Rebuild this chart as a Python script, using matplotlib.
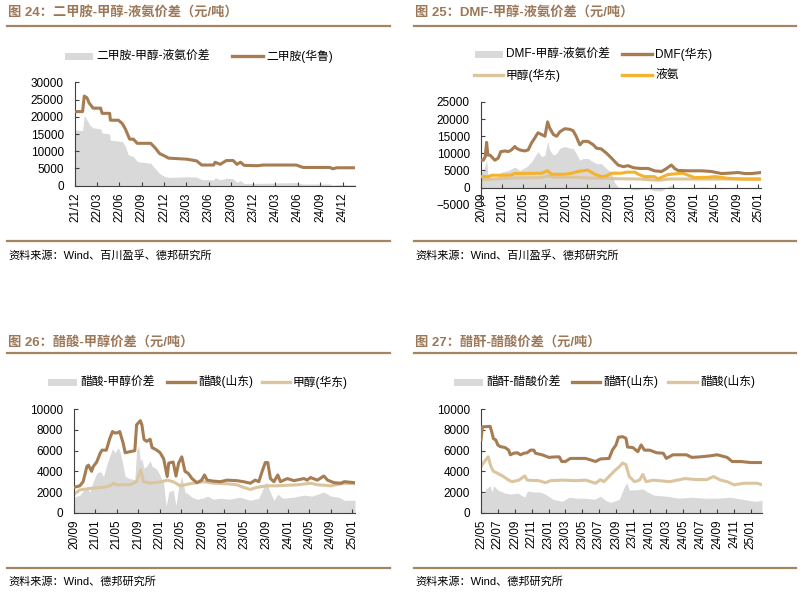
import matplotlib
matplotlib.use('Agg')
import matplotlib.pyplot as plt
import pandas as pd
from matplotlib.lines import Line2D
from matplotlib.patches import Rectangle

plt.rcParams['font.family'] = ['Liberation Sans', 'Noto Sans CJK SC', 'DejaVu Sans']

# ---------------- Panel 24: 二甲胺 ----------------
p1_line_d = ['2021-12-01', '2022-01-01', '2022-01-08', '2022-01-19', '2022-01-28', '2022-02-13', '2022-03-16',
             '2022-03-22', '2022-04-22', '2022-04-25', '2022-05-28', '2022-06-13', '2022-06-25', '2022-07-13',
             '2022-07-28', '2022-08-13', '2022-10-07', '2022-10-25', '2022-11-13', '2022-12-01', '2022-12-19',
             '2023-03-04', '2023-04-13', '2023-05-04', '2023-06-22', '2023-06-28', '2023-07-19', '2023-08-13',
             '2023-09-10', '2023-09-25', '2023-10-10', '2023-10-25', '2023-12-16', '2024-01-13', '2024-05-25',
             '2024-06-22', '2024-10-10', '2024-10-22', '2024-11-07', '2025-01-21']
p1_line_v = [21500, 21500, 26000, 25500, 24000, 22500, 22500, 21000, 21000, 19000, 19000, 18000, 16500, 13500,
             13500, 12300, 12300, 11000, 9300, 8700, 8000, 7700, 7200, 6000, 6000, 6800, 6200, 7300,
             7300, 6200, 6800, 5900, 5800, 6000, 6000, 5300, 5300, 4900, 5200, 5200]
p1_area_d = ['2021-12-01', '2022-01-01', '2022-01-08', '2022-01-19', '2022-02-01', '2022-02-13', '2022-03-16',
             '2022-03-22', '2022-04-22', '2022-04-25', '2022-06-13', '2022-06-25', '2022-07-07', '2022-07-28',
             '2022-08-13', '2022-10-07', '2022-10-25', '2022-11-13', '2022-12-01', '2022-12-19', '2023-03-04',
             '2023-04-13', '2023-05-04', '2023-06-22', '2023-06-28', '2023-07-19', '2023-08-13', '2023-09-10',
             '2023-09-25', '2023-10-10', '2023-10-25', '2024-01-13', '2024-05-25', '2024-06-22', '2024-10-10',
             '2024-10-22', '2024-11-07', '2025-01-21']
p1_area_v = [16200, 16000, 20500, 19000, 17500, 16800, 16500, 15300, 15000, 13200, 12800, 11500, 9000, 8500,
             7000, 6500, 5000, 3500, 2800, 2400, 2600, 2500, 1800, 1700, 2300, 1700, 2200, 2000,
             1000, 1500, 600, 700, 900, 500, 500, 100, 300, 300]
p1_ticks = ['21/12', '22/03', '22/06', '22/09', '22/12', '23/03', '23/06', '23/09', '23/12',
            '24/03', '24/06', '24/09', '24/12']

# ---------------- Panel 25: DMF ----------------
p2_dmf_d = ['2020-09-01', '2020-09-14', '2020-09-25', '2020-10-03', '2020-10-10', '2020-10-22', '2020-11-19',
            '2020-12-08', '2020-12-23', '2021-01-16', '2021-02-04', '2021-02-22', '2021-03-13', '2021-03-22',
            '2021-04-10', '2021-05-08', '2021-05-28', '2021-06-16', '2021-07-04', '2021-07-23', '2021-08-13',
            '2021-09-01', '2021-09-16', '2021-09-28', '2021-10-19', '2021-11-07', '2021-11-25', '2021-12-23',
            '2022-01-22', '2022-02-09', '2022-02-26', '2022-03-19', '2022-04-07', '2022-05-04', '2022-06-04',
            '2022-06-22', '2022-07-19', '2022-08-19', '2022-09-16', '2022-10-23', '2022-11-22', '2022-12-19',
            '2023-01-19', '2023-02-25', '2023-04-13', '2023-05-19', '2023-06-28', '2023-07-25', '2023-08-23',
            '2023-09-13', '2023-10-01', '2023-11-28', '2024-02-13', '2024-04-08', '2024-06-04', '2024-07-13',
            '2024-09-08', '2024-10-16', '2024-11-23', '2025-01-16']
p2_dmf_v = [8000, 8000, 9000, 13200, 9500, 9500, 8000, 8600, 10500, 10700, 10500, 11000, 12000, 11500,
            11000, 10700, 11000, 13000, 14400, 16000, 15500, 15000, 19200, 17400, 15500, 15000, 16300, 17200,
            17000, 16600, 15000, 12500, 13500, 13500, 12500, 11500, 11300, 10000, 8600, 6600, 6100, 6400,
            5800, 5600, 5600, 4900, 4700, 5500, 6600, 5500, 5000, 4900, 4900, 4700, 4100, 4200,
            4400, 4100, 4100, 4400]
p2_nh3_d = ['2020-09-01', '2020-10-13', '2020-11-01', '2020-12-28', '2021-01-16', '2021-02-22', '2021-03-13',
            '2021-08-13', '2021-09-16', '2021-10-08', '2021-12-23', '2022-02-01', '2022-03-08', '2022-05-04',
            '2022-06-13', '2022-07-19', '2022-08-19', '2022-09-16', '2022-11-13', '2022-12-10', '2023-01-28',
            '2023-02-16', '2023-03-23', '2023-05-19', '2023-06-08', '2023-07-07', '2023-08-04', '2023-10-01',
            '2023-10-28', '2023-11-28', '2024-01-04', '2024-03-19', '2024-04-28', '2024-07-13', '2024-09-28',
            '2025-01-16']
p2_nh3_v = [3200, 3200, 3600, 3600, 3600, 3700, 4100, 4200, 4900, 3900, 3900, 4200, 4700, 5100,
            3900, 3200, 3400, 4200, 4200, 4500, 4500, 3900, 3200, 3200, 2500, 3200, 3800, 4100,
            4200, 3600, 2900, 3000, 3200, 2700, 2500, 2500]
p2_meoh_d = ['2020-09-01', '2020-11-01', '2021-02-04', '2021-03-13', '2021-08-13', '2021-09-16', '2021-10-19',
             '2022-02-26', '2022-05-04', '2022-08-19', '2022-10-03', '2023-02-25', '2023-05-19', '2023-06-28',
             '2023-08-04', '2023-12-01', '2024-04-01', '2025-01-16']
p2_meoh_v = [2200, 2500, 2700, 2800, 2900, 3400, 3000, 3000, 2800, 2700, 2600, 2500, 2200, 2200,
             2500, 2500, 2500, 2500]
p2_area_d = ['2020-09-01', '2020-09-16', '2020-10-03', '2020-10-10', '2020-11-01', '2020-12-01', '2020-12-23',
             '2021-02-04', '2021-03-13', '2021-04-10', '2021-05-16', '2021-06-16', '2021-07-04', '2021-07-23',
             '2021-08-13', '2021-09-01', '2021-09-16', '2021-09-28', '2021-10-19', '2021-11-07', '2021-11-25',
             '2021-12-23', '2022-01-22', '2022-02-09', '2022-02-26', '2022-03-19', '2022-04-07', '2022-05-04',
             '2022-06-04', '2022-06-22', '2022-07-19', '2022-08-19', '2022-09-16', '2022-10-03', '2022-10-23',
             '2022-11-22', '2022-12-19', '2023-01-19', '2023-02-25', '2023-04-13', '2023-05-19', '2023-06-28',
             '2023-07-25', '2023-08-23', '2023-09-13', '2023-10-01', '2023-11-28', '2024-02-13', '2024-04-08',
             '2024-06-04', '2024-07-13', '2024-09-08', '2024-10-16', '2025-01-16']
p2_area_v = [4500, 5000, 8000, 4000, 2500, 2800, 4500, 5000, 6000, 5000, 6000, 7500, 9000, 10500,
             9000, 9500, 13500, 11000, 9500, 10000, 11500, 12000, 11500, 11500, 10000, 8000, 8500, 8500,
             7500, 7000, 7000, 5500, 4500, 1500, 200, -400, 0, -700, -500, -300, -900, -1000,
             0, 700, 0, -200, -300, 200, 0, -400, -200, 0, -300, 0]
p2_ticks = ['20/09', '21/01', '21/05', '21/09', '22/01', '22/05', '22/09', '23/01', '23/05', '23/09',
            '24/01', '24/05', '24/09', '25/01']

# ---------------- Panel 26: 醋酸-甲醇 ----------------
p3_acid_d = ['2020-09-01', '2020-10-04', '2020-10-23', '2020-11-13', '2020-11-22', '2020-12-10', '2020-12-19',
             '2021-01-08', '2021-01-28', '2021-02-07', '2021-03-04', '2021-03-24', '2021-04-08', '2021-04-22',
             '2021-05-10', '2021-05-19', '2021-06-08', '2021-06-19', '2021-07-16', '2021-08-13', '2021-08-23',
             '2021-09-13', '2021-09-22', '2021-10-04', '2021-10-19', '2021-11-08', '2021-11-19', '2021-12-16',
             '2022-01-04', '2022-01-24', '2022-02-13', '2022-02-22', '2022-03-19', '2022-04-04', '2022-04-19',
             '2022-05-07', '2022-05-25', '2022-06-13', '2022-07-04', '2022-08-01', '2022-08-28', '2022-09-13',
             '2022-09-28', '2022-11-04', '2022-12-13', '2023-01-19', '2023-03-16', '2023-04-23', '2023-06-01',
             '2023-06-28', '2023-07-19', '2023-08-07', '2023-08-25', '2023-09-08', '2023-09-23', '2023-10-13',
             '2023-11-04', '2023-11-19', '2023-12-28', '2024-02-04', '2024-04-01', '2024-04-19', '2024-05-08',
             '2024-06-16', '2024-07-23', '2024-08-13', '2024-09-19', '2024-10-28', '2024-11-16', '2025-01-16']
p3_acid_v = [2450, 2600, 3000, 4450, 4600, 4000, 4450, 4900, 5750, 6050, 6050, 7200, 7850, 7700,
             7750, 7850, 6700, 5800, 5900, 6000, 8500, 8900, 8500, 7100, 6900, 7100, 6300, 6050,
             5800, 5200, 3500, 4800, 4900, 3550, 4800, 5400, 4000, 3800, 3300, 2900, 3150, 3650,
             3150, 3050, 3000, 3150, 3100, 3000, 2850, 3150, 3000, 4000, 4850, 4850, 3300, 3000,
             3650, 3000, 3300, 3100, 3300, 3150, 3400, 3150, 3550, 3150, 2900, 2850, 3000, 2900]
p3_meoh_d = ['2020-09-01', '2020-10-04', '2020-12-01', '2021-02-16', '2021-03-24', '2021-04-13', '2021-05-01',
             '2021-07-16', '2021-08-23', '2021-09-16', '2021-10-01', '2021-11-08', '2022-01-13', '2022-02-13',
             '2022-03-19', '2022-04-28', '2022-06-23', '2022-09-08', '2022-11-04', '2023-01-19', '2023-03-16',
             '2023-04-23', '2023-06-01', '2023-07-08', '2023-09-04', '2023-11-01', '2024-02-23', '2024-05-08',
             '2024-06-16', '2024-09-01', '2024-11-16', '2025-01-16']
p3_meoh_v = [1800, 2200, 2350, 2450, 2600, 2850, 2700, 2700, 3000, 4150, 3000, 2850, 3000, 3150,
             3000, 2600, 2800, 3000, 2850, 2800, 2700, 2450, 2250, 2450, 2600, 2600, 2700, 2850,
             2700, 2600, 2850, 2800]
p3_area_d = ['2020-09-01', '2020-10-04', '2020-11-13', '2020-12-01', '2020-12-19', '2021-01-08', '2021-01-28',
             '2021-02-16', '2021-03-04', '2021-03-24', '2021-04-08', '2021-04-22', '2021-05-10', '2021-05-19',
             '2021-06-08', '2021-06-19', '2021-07-16', '2021-08-13', '2021-08-23', '2021-09-04', '2021-09-13',
             '2021-09-22', '2021-10-04', '2021-10-19', '2021-11-08', '2021-11-19', '2021-12-16', '2022-01-04',
             '2022-01-24', '2022-02-07', '2022-02-22', '2022-03-19', '2022-04-04', '2022-04-19', '2022-05-07',
             '2022-05-25', '2022-06-13', '2022-07-04', '2022-08-01', '2022-09-01', '2022-10-01', '2022-11-01',
             '2022-12-16', '2023-02-01', '2023-04-01', '2023-06-01', '2023-07-19', '2023-08-16', '2023-09-01',
             '2023-09-16', '2023-10-13', '2023-11-04', '2023-12-01', '2024-02-01', '2024-04-01', '2024-05-16',
             '2024-07-23', '2024-09-01', '2024-10-16', '2024-11-16', '2025-01-16']
p3_area_v = [1500, 1700, 2500, 2000, 3000, 3800, 4000, 3500, 4500, 5500, 6200, 5800, 6300, 6000,
             4500, 3500, 3300, 3200, 6000, 6500, 5000, 5200, 4300, 4500, 5000, 4500, 4200, 3600,
             2800, 600, 2000, 2200, 700, 2500, 3500, 2000, 1800, 1500, 1300, 1400, 1600, 1300,
             1400, 1300, 1500, 1200, 1400, 2500, 3000, 2200, 1200, 1800, 1400, 1500, 1700, 1600,
             2000, 1600, 1500, 1200, 1200]
p3_ticks = p2_ticks

# ---------------- Panel 27: 醋酐-醋酸 ----------------
p4_anh_d = ['2022-05-01', '2022-05-06', '2022-06-03', '2022-06-09', '2022-06-15', '2022-06-23', '2022-07-01',
            '2022-07-09', '2022-07-27', '2022-08-09', '2022-08-15', '2022-08-27', '2022-09-09', '2022-09-21',
            '2022-10-03', '2022-10-15', '2022-10-27', '2022-11-08', '2022-11-14', '2022-12-08', '2023-01-02',
            '2023-01-26', '2023-02-08', '2023-02-17', '2023-03-02', '2023-03-20', '2023-05-14', '2023-06-02',
            '2023-06-19', '2023-07-07', '2023-08-07', '2023-08-19', '2023-09-01', '2023-09-10', '2023-09-25',
            '2023-10-07', '2023-10-13', '2023-11-01', '2023-11-19', '2023-12-01', '2023-12-13', '2024-01-01',
            '2024-01-25', '2024-02-19', '2024-03-01', '2024-03-25', '2024-05-13', '2024-06-01', '2024-07-01',
            '2024-08-07', '2024-09-01', '2024-10-07', '2024-10-25', '2024-11-25', '2025-01-01', '2025-02-10']
p4_anh_v = [7050, 8300, 8350, 7800, 7150, 7050, 6550, 6400, 6300, 6050, 5600, 5750, 5800, 5600,
            5750, 5800, 6050, 6050, 5750, 5600, 5350, 5400, 5400, 4950, 4950, 5250, 5250, 5100,
            4950, 5200, 5250, 6050, 6550, 7300, 7350, 7200, 6350, 6300, 5900, 6550, 6050, 6050,
            5800, 5750, 5250, 5600, 5600, 5350, 5400, 5500, 5600, 5350, 4950, 4950, 4850, 4850]
p4_acid_d = ['2022-05-01', '2022-05-09', '2022-05-27', '2022-06-06', '2022-06-15', '2022-07-01', '2022-07-21',
             '2022-08-09', '2022-08-21', '2022-09-15', '2022-10-06', '2022-10-15', '2022-11-26', '2022-12-20',
             '2023-01-08', '2023-02-19', '2023-04-08', '2023-05-14', '2023-06-19', '2023-07-07', '2023-07-19',
             '2023-08-07', '2023-08-25', '2023-09-13', '2023-09-25', '2023-10-07', '2023-10-19', '2023-11-07',
             '2023-11-25', '2023-12-07', '2023-12-19', '2024-01-13', '2024-03-13', '2024-05-07', '2024-06-19',
             '2024-07-25', '2024-08-19', '2024-09-13', '2024-10-07', '2024-11-01', '2024-12-07', '2025-01-23',
             '2025-02-10']
p4_acid_v = [4450, 4800, 5400, 4450, 4000, 3800, 3500, 3150, 3000, 3150, 3550, 3150, 3100, 2900,
             3100, 3150, 3100, 3150, 2850, 3200, 3000, 3500, 4000, 4450, 4800, 4650, 3500, 3000,
             3150, 3700, 3000, 3150, 3000, 3300, 3200, 3200, 3500, 3150, 3000, 2700, 2850, 2850,
             2700]
p4_area_d = ['2022-05-01', '2022-05-10', '2022-05-19', '2022-06-03', '2022-06-10', '2022-06-16', '2022-07-01',
             '2022-07-25', '2022-08-16', '2022-09-10', '2022-10-06', '2022-10-16', '2022-11-10', '2022-12-01',
             '2022-12-19', '2023-01-16', '2023-02-19', '2023-03-16', '2023-04-10', '2023-05-13', '2023-06-16',
             '2023-07-07', '2023-07-25', '2023-08-13', '2023-09-13', '2023-10-01', '2023-10-10', '2023-10-19',
             '2023-11-13', '2023-12-07', '2023-12-25', '2024-01-16', '2024-03-01', '2024-04-16', '2024-06-01',
             '2024-07-16', '2024-09-01', '2024-10-16', '2024-12-01', '2025-01-16', '2025-02-10']
p4_area_v = [2300, 1800, 2300, 2600, 2000, 2600, 2200, 1900, 1800, 1900, 1500, 2100, 2000, 2000,
             1800, 1300, 1100, 1500, 1400, 1400, 1300, 1600, 1200, 1000, 1300, 2500, 2900, 2200,
             2200, 2300, 2000, 1700, 1600, 1400, 1500, 1400, 1400, 1500, 1300, 1100, 1200]
p4_ticks = ['22/05', '22/07', '22/09', '22/11', '23/01', '23/03', '23/05', '23/07', '23/09', '23/11',
            '24/01', '24/03', '24/05', '24/07', '24/09', '24/11', '25/01']

# ---------------- style ----------------
BROWN = '#A67C52'
TAN = '#DBC59F'
YELLOW = '#F4B22E'
GRAY = '#D9D9D9'
TITLE_C = '#9C7858'
RULE_C = '#A58464'
AX_C = '#404040'

W, H = 805, 595
fig = plt.figure(figsize=(W / 100, H / 100), dpi=100)


def fx(x):
    return x / W


def fy(y):
    return 1 - y / H


def axes_px(left, top, right, bottom):
    return fig.add_axes([fx(left), fy(bottom), (right - left) / W, (bottom - top) / H])


def d(lst):
    return pd.to_datetime(lst)


def tick_dates(labels):
    return pd.to_datetime(['20' + s.replace('/', '-') + '-01' for s in labels])


def style_axes(ax, ticks, ylim, ystep, xpad=5):
    ax.set_ylim(*ylim)
    ax.set_yticks(range(ylim[0], ylim[1] + 1, ystep))
    ax.set_xticks(tick_dates(ticks))
    ax.set_xticklabels(ticks, rotation=90)
    for s in ['top', 'right']:
        ax.spines[s].set_visible(False)
    for s in ['left', 'bottom']:
        ax.spines[s].set_color(AX_C)
        ax.spines[s].set_linewidth(0.8)
    ax.tick_params(axis='both', direction='in', length=3, width=0.8, color=AX_C,
                   labelsize=8.5, labelcolor='black')
    ax.tick_params(axis='y', pad=8)
    ax.tick_params(axis='x', pad=xpad)


def header(x, y_title, y_rule, x1, title):
    fig.text(fx(x), fy(y_title), title, fontsize=9.5, color=TITLE_C, fontweight='bold',
             ha='left', va='center')
    fig.add_artist(Line2D([fx(x - 1), fx(x1)], [fy(y_rule), fy(y_rule)], color=RULE_C, lw=1.6,
                          transform=fig.transFigure))


def footer(x, y_rule, y_text, x1, text):
    fig.add_artist(Line2D([fx(x - 1), fx(x1)], [fy(y_rule), fy(y_rule)], color=RULE_C, lw=1.6,
                          transform=fig.transFigure))
    fig.text(fx(x), fy(y_text), text, fontsize=8, color='black', ha='left', va='center')


def leg_patch(x0, x1, y, label):
    fig.add_artist(Rectangle((fx(x0), fy(y + 3.5)), (x1 - x0) / W, 7 / H, color=GRAY, lw=0,
                             transform=fig.transFigure))
    fig.text(fx(x1 + 3), fy(y), label, fontsize=8.5, ha='left', va='center')


def leg_line(x0, x1, y, color, label):
    fig.add_artist(Line2D([fx(x0), fx(x1)], [fy(y), fy(y)], color=color, lw=2.4,
                          transform=fig.transFigure))
    fig.text(fx(x1 + 3), fy(y), label, fontsize=8.5, ha='left', va='center')


LW = 2.2

# ---------- Panel 1 ----------
ax1 = axes_px(75, 82.3, 355, 185.7)
ax1.fill_between(d(p1_area_d), 0, p1_area_v, color=GRAY, lw=0, zorder=1)
ax1.plot(d(p1_line_d), p1_line_v, color=BROWN, lw=LW, zorder=3)
ax1.set_xlim(pd.Timestamp('2021-12-01'), pd.Timestamp('2025-01-21'))
style_axes(ax1, p1_ticks, (0, 30000), 5000, xpad=5)
header(8, 12, 26, 390, '图 24：二甲胺-甲醇-液氨价差（元/吨）')
footer(8, 241, 255, 390, '资料来源：Wind、百川盈孚、德邦研究所')
leg_patch(65, 93, 56, '二甲胺-甲醇-液氨价差')
leg_line(232, 263, 56, BROWN, '二甲胺(华鲁)')

# ---------- Panel 2 ----------
ax2 = axes_px(481, 102, 761, 204.7)
ax2.spines['bottom'].set_position(('data', 0))
ax2.fill_between(d(p2_area_d), 0, p2_area_v, color=GRAY, lw=0, zorder=1)
ax2.plot(d(p2_meoh_d), p2_meoh_v, color=TAN, lw=LW, zorder=2)
ax2.plot(d(p2_nh3_d), p2_nh3_v, color=YELLOW, lw=LW, zorder=3)
ax2.plot(d(p2_dmf_d), p2_dmf_v, color=BROWN, lw=LW, zorder=4)
ax2.set_xlim(pd.Timestamp('2020-09-01'), pd.Timestamp('2025-01-16'))
style_axes(ax2, p2_ticks, (-5000, 25000), 5000, xpad=3.5)
header(415, 12, 26, 796, '图 25：DMF-甲醇-液氨价差（元/吨）')
footer(415, 241, 255, 796, '资料来源：Wind、百川盈孚、德邦研究所')
leg_patch(475, 503, 54, 'DMF-甲醇-液氨价差')
leg_line(622, 652, 54, BROWN, 'DMF(华东)')
leg_line(474, 503, 75, TAN, '甲醇(华东)')
leg_line(622, 652, 75, YELLOW, '液氨')

# ---------- Panel 3 ----------
ax3 = axes_px(74, 409.3, 355, 512.7)
ax3.fill_between(d(p3_area_d), 0, p3_area_v, color=GRAY, lw=0, zorder=1)
ax3.plot(d(p3_meoh_d), p3_meoh_v, color=TAN, lw=LW, zorder=2)
ax3.plot(d(p3_acid_d), p3_acid_v, color=BROWN, lw=LW, zorder=3)
ax3.set_xlim(pd.Timestamp('2020-09-01'), pd.Timestamp('2025-01-16'))
style_axes(ax3, p3_ticks, (0, 10000), 2000, xpad=5)
header(8, 342, 353.3, 390, '图 26：醋酸-甲醇价差（元/吨）')
footer(8, 568.3, 582, 390, '资料来源：Wind、德邦研究所')
leg_patch(48, 77, 382, '醋酸-甲醇价差')
leg_line(167, 195, 382, BROWN, '醋酸(山东)')
leg_line(262, 290, 382, TAN, '甲醇(华东)')

# ---------- Panel 4 ----------
ax4 = axes_px(481, 409.3, 762, 512.7)
ax4.fill_between(d(p4_area_d), 0, p4_area_v, color=GRAY, lw=0, zorder=1)
ax4.plot(d(p4_acid_d), p4_acid_v, color=TAN, lw=LW, zorder=2)
ax4.plot(d(p4_anh_d), p4_anh_v, color=BROWN, lw=LW, zorder=3)
ax4.set_xlim(pd.Timestamp('2022-05-01'), pd.Timestamp('2025-02-10'))
style_axes(ax4, p4_ticks, (0, 10000), 2000, xpad=5)
header(415, 342, 353.3, 796, '图 27：醋酐-醋酸价差（元/吨）')
footer(415, 568.3, 582, 796, '资料来源：Wind、德邦研究所')
leg_patch(454, 483, 382, '醋酐-醋酸价差')
leg_line(572, 600, 382, BROWN, '醋酐(山东)')
leg_line(668, 697, 382, TAN, '醋酸(山东)')

fig.savefig('out.png', dpi=100, facecolor='white')
